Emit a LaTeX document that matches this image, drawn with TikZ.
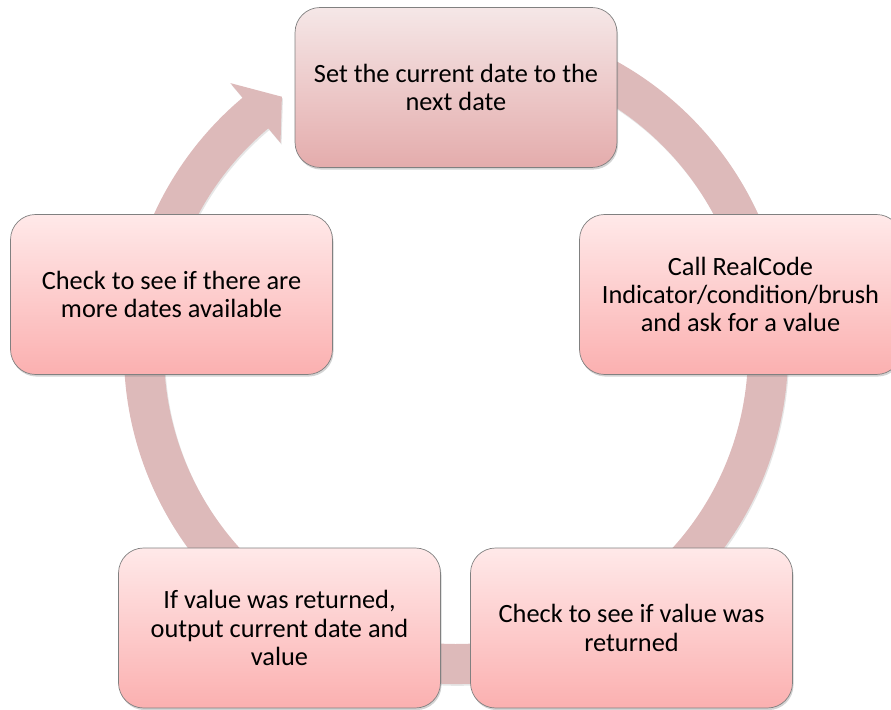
\documentclass[tikz,border=0pt]{standalone}
\usepackage{fontspec}
\setmainfont{Carlito}
\usetikzlibrary{calc,shadows}
\definecolor{ringpink}{RGB}{221,186,186}
\definecolor{boxtop}{RGB}{255,233,233}
\definecolor{boxbot}{RGB}{251,176,176}
\definecolor{firsttop}{RGB}{245,231,231}
\definecolor{firstbot}{RGB}{228,172,172}

\begin{document}
\begin{tikzpicture}[x=0.02cm, y=0.02cm,
    every node/.style={font=\fontsize{15}{16}\selectfont},
    stepbox/.style={draw=gray, rounded corners=0.5cm, minimum width=6.44cm, minimum height=3.2cm,
      align=center, top color=boxtop, bottom color=boxbot,
      drop shadow={shadow xshift=0.6pt, shadow yshift=-1.2pt, opacity=0.35}},
    firstbox/.style={stepbox, top color=firsttop, bottom color=firstbot}]
  \useasboundingbox (0,0) rectangle (891,709);
  \coordinate (C) at (456,357);
  % ring with its arrow head, behind the boxes
  \fill[ringpink, drop shadow={shadow xshift=0.6pt, shadow yshift=-1pt, opacity=0.2}]
    ($(C)+(80:332)$) arc[start angle=80, end angle=-230, radius=332]
    -- ($(C)+(130:351)$) -- ($(C)+(124.3:309)$) -- ($(C)+(130:273)$) -- ($(C)+(130:292)$)
    arc[start angle=-230, end angle=80, radius=292] -- cycle;
  \node[firstbox] (setdate) at (456,621.5) {Set the current date to the\\next date};
  \node[stepbox] (callcode) at (740.5,414.5) {Call RealCode\\Indicator/condition/brush\\and ask for a value};
  \node[stepbox] (checkvalue) at (631.5,81) {Check to see if value was\\returned};
  \node[stepbox] (output) at (279.5,81) {If value was returned,\\output current date and\\value};
  \node[stepbox] (moredates) at (171.5,414.5) {Check to see if there are\\more dates available};
\end{tikzpicture}
\end{document}
